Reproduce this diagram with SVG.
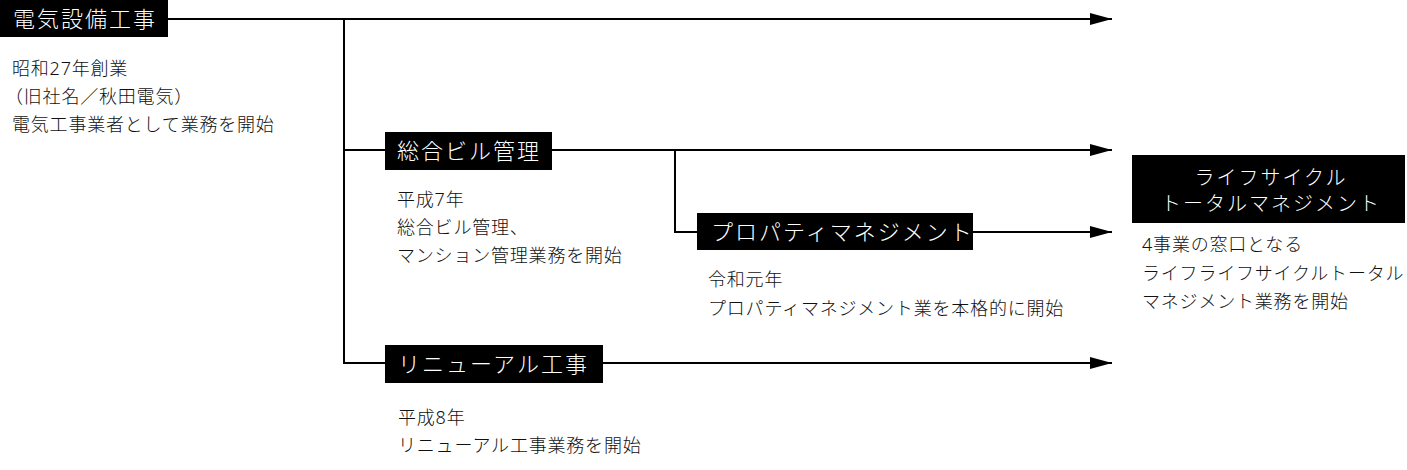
<svg xmlns="http://www.w3.org/2000/svg" width="1407" height="470" viewBox="0 0 1407 470">
<style>
.bg{fill:#fff}
.box{fill:#000}
.lbl{fill:#fff;font-family:"Noto Sans","Noto Sans CJK JP",sans-serif;font-size:22px;letter-spacing:2px;font-weight:300}
.lbl2{fill:#fff;font-family:"Noto Sans","Noto Sans CJK JP",sans-serif;font-size:20px;letter-spacing:2px;text-anchor:middle;font-weight:300}
.txt{fill:#111;font-family:"Noto Sans","Noto Sans CJK JP",sans-serif;font-size:18px;letter-spacing:0.8px;font-weight:300}
.ln{stroke:#000;stroke-width:2;fill:none}
</style>
<defs>
<marker id="ah" markerUnits="userSpaceOnUse" markerWidth="22" markerHeight="12" refX="22" refY="6" orient="auto">
<path d="M0,0 L22,6 L0,12 z" fill="#000"/>
</marker>
</defs>
<rect class="bg" x="0" y="0" width="1407" height="470"/>
<g id="connectors">
<path class="ln" d="M168,19 H1112" marker-end="url(#ah)"/>
<path class="ln" d="M344,19 V363 H385"/>
<path class="ln" d="M344,150 H385"/>
<path class="ln" d="M552,150 H1112" marker-end="url(#ah)"/>
<path class="ln" d="M675,150 V232 H697"/>
<path class="ln" d="M973,232 H1112" marker-end="url(#ah)"/>
<path class="ln" d="M603,363 H1112" marker-end="url(#ah)"/>
</g>
<g id="node-denki">
<rect class="box" x="0" y="0" width="168" height="37"/>
<text class="lbl" x="13" y="27">電気設備工事</text>
<text class="txt" x="12" y="75">昭和27年創業</text>
<text class="txt" x="5" y="103">（旧社名／秋田電気）</text>
<text class="txt" x="12" y="131">電気工事業者として業務を開始</text>
</g>
<g id="node-sogo">
<rect class="box" x="385" y="132" width="167" height="38"/>
<text class="lbl" x="397" y="159">総合ビル管理</text>
<text class="txt" x="397" y="206">平成7年</text>
<text class="txt" x="397" y="234">総合ビル管理、</text>
<text class="txt" x="397" y="262">マンション管理業務を開始</text>
</g>
<g id="node-property">
<rect class="box" x="697" y="213" width="276" height="37"/>
<text class="lbl" x="711" y="240">プロパティマネジメント</text>
<text class="txt" x="708" y="286">令和元年</text>
<text class="txt" x="708" y="315">プロパティマネジメント業を本格的に開始</text>
</g>
<g id="node-renewal">
<rect class="box" x="385" y="345" width="218" height="38"/>
<text class="lbl" x="398" y="372">リニューアル工事</text>
<text class="txt" x="398" y="424">平成8年</text>
<text class="txt" x="398" y="452">リニューアル工事業務を開始</text>
</g>
<g id="node-lifecycle">
<rect class="box" x="1132" y="155" width="273" height="68"/>
<text class="lbl2" x="1271" y="185">ライフサイクル</text>
<text class="lbl2" x="1271" y="211">トータルマネジメント</text>
<text class="txt" x="1142" y="251">4事業の窓口となる</text>
<text class="txt" x="1142" y="280">ライフライフサイクルトータル</text>
<text class="txt" x="1142" y="308">マネジメント業務を開始</text>
</g>
</svg>
